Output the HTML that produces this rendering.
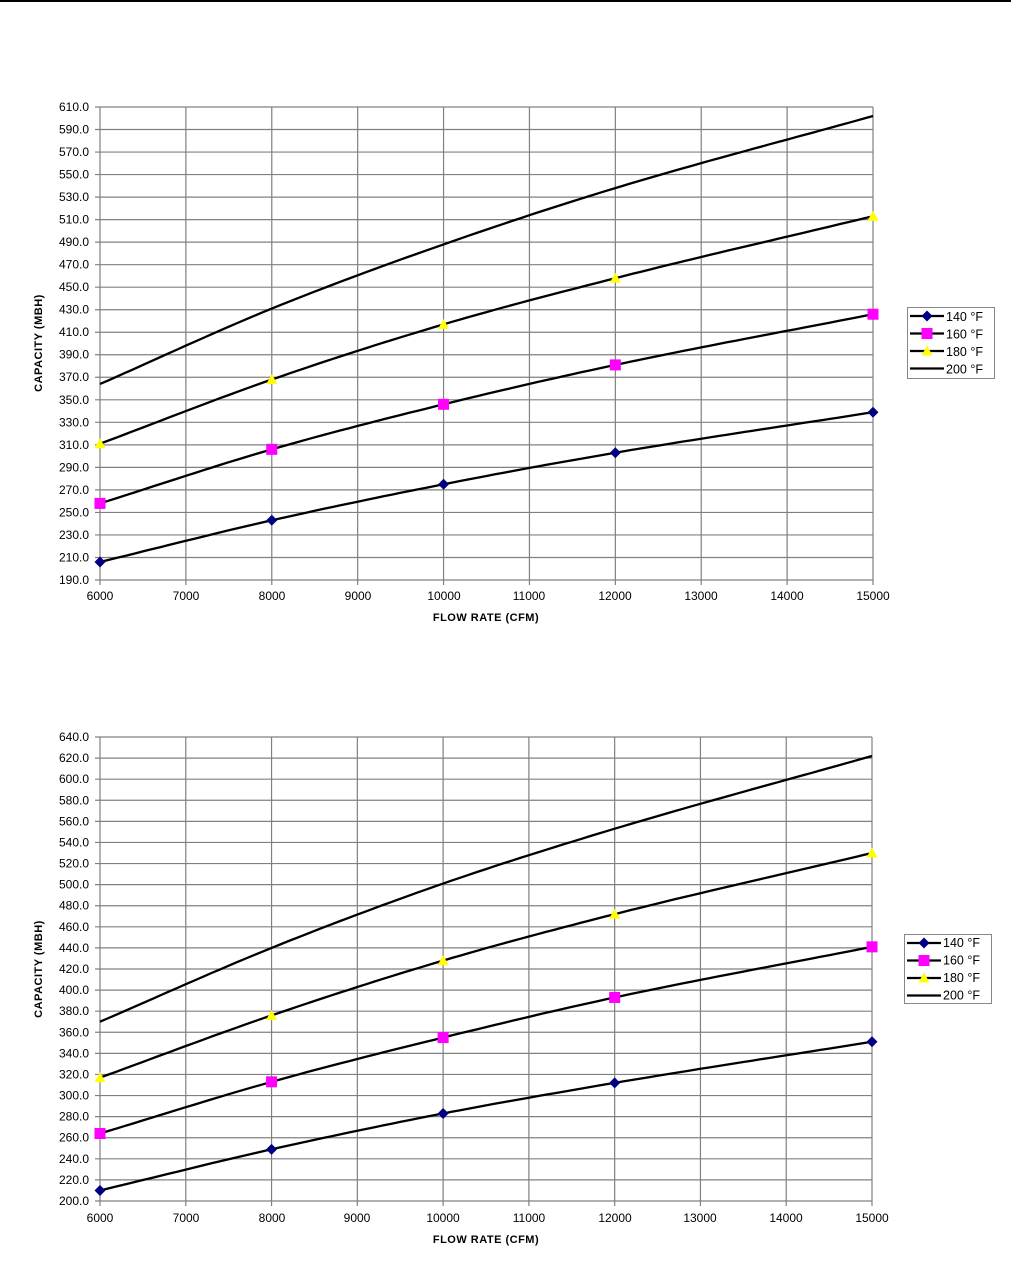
<!DOCTYPE html>
<html><head><meta charset="utf-8"><style>
body{margin:0;background:#fff;}
svg text{font-family:"Liberation Sans",Arial,sans-serif;fill:#000;}
.yl{font-size:12px;text-anchor:end;}
.xl{font-size:12px;text-anchor:middle;}
.t{font-size:11px;font-weight:bold;letter-spacing:0.5px;}
.lg{font-size:12.5px;}
</style></head><body>
<svg id="s" width="1011" height="1262" xmlns="http://www.w3.org/2000/svg">
<line x1="0" y1="1" x2="1011" y2="1" stroke="#000" stroke-width="2"/>
<rect x="907.5" y="307.5" width="87" height="71" fill="#fff" stroke="#888"/>
<rect x="904.5" y="934.5" width="87" height="69" fill="#fff" stroke="#888"/>
<g id="g"></g>
<g class="yl">
<text x="89" y="111">610.0</text><text x="89" y="133.5">590.0</text><text x="89" y="156">570.0</text><text x="89" y="178.5">550.0</text><text x="89" y="201">530.0</text><text x="89" y="223.6">510.0</text><text x="89" y="246.1">490.0</text><text x="89" y="268.6">470.0</text><text x="89" y="291.2">450.0</text><text x="89" y="313.7">430.0</text><text x="89" y="336.2">410.0</text><text x="89" y="358.7">390.0</text><text x="89" y="381.2">370.0</text><text x="89" y="403.8">350.0</text><text x="89" y="426.3">330.0</text><text x="89" y="448.8">310.0</text><text x="89" y="471.3">290.0</text><text x="89" y="493.8">270.0</text><text x="89" y="516.4">250.0</text><text x="89" y="538.9">230.0</text><text x="89" y="561.4">210.0</text><text x="89" y="584">190.0</text>
</g>
<g class="xl">
<text x="100" y="600">6000</text><text x="186" y="600">7000</text><text x="272" y="600">8000</text><text x="358" y="600">9000</text><text x="444" y="600">10000</text><text x="529" y="600">11000</text><text x="615" y="600">12000</text><text x="701" y="600">13000</text><text x="787" y="600">14000</text><text x="873" y="600">15000</text>
</g>
<text class="t" x="486" y="621" text-anchor="middle">FLOW RATE (CFM)</text>
<text class="t" x="42" y="343" text-anchor="middle" transform="rotate(-90 42 343)">CAPACITY (MBH)</text>
<g class="yl">
<text x="89" y="741">640.0</text><text x="89" y="762.1">620.0</text><text x="89" y="783.2">600.0</text><text x="89" y="804.3">580.0</text><text x="89" y="825.4">560.0</text><text x="89" y="846.5">540.0</text><text x="89" y="867.5">520.0</text><text x="89" y="888.6">500.0</text><text x="89" y="909.7">480.0</text><text x="89" y="930.8">460.0</text><text x="89" y="951.9">440.0</text><text x="89" y="973">420.0</text><text x="89" y="994.1">400.0</text><text x="89" y="1015.2">380.0</text><text x="89" y="1036.3">360.0</text><text x="89" y="1057.4">340.0</text><text x="89" y="1078.5">320.0</text><text x="89" y="1099.5">300.0</text><text x="89" y="1120.6">280.0</text><text x="89" y="1141.7">260.0</text><text x="89" y="1162.8">240.0</text><text x="89" y="1183.9">220.0</text><text x="89" y="1205">200.0</text>
</g>
<g class="xl">
<text x="100" y="1222">6000</text><text x="186" y="1222">7000</text><text x="272" y="1222">8000</text><text x="357" y="1222">9000</text><text x="443" y="1222">10000</text><text x="529" y="1222">11000</text><text x="615" y="1222">12000</text><text x="700" y="1222">13000</text><text x="786" y="1222">14000</text><text x="872" y="1222">15000</text>
</g>
<text class="t" x="486" y="1243" text-anchor="middle">FLOW RATE (CFM)</text>
<text class="t" x="42" y="969" text-anchor="middle" transform="rotate(-90 42 969)">CAPACITY (MBH)</text>
<g class="lg"><text x="946" y="321">140 °F</text><text x="946" y="338.5">160 °F</text><text x="946" y="356">180 °F</text><text x="946" y="373.5">200 °F</text></g>
<g class="lg"><text x="943" y="947">140 °F</text><text x="943" y="964.5">160 °F</text><text x="943" y="982">180 °F</text><text x="943" y="999.5">200 °F</text></g>
</svg>
<script>
var g=document.getElementById('g'),NS='http://www.w3.org/2000/svg';
function el(t,a){var e=document.createElementNS(NS,t);for(var k in a)e.setAttribute(k,a[k]);g.appendChild(e);return e;}
function marker(type,x,y){
 if(type==0)el('polygon',{points:(x)+','+(y-5.5)+' '+(x+5.5)+','+y+' '+x+','+(y+5.5)+' '+(x-5.5)+','+y,fill:'#000080'});
 else if(type==1)el('rect',{x:x-5.5,y:y-5.5,width:11,height:11,fill:'#ff00ff'});
 else if(type==2)el('polygon',{points:x+','+(y-5.5)+' '+(x+5.5)+','+(y+4.5)+' '+(x-5.5)+','+(y+4.5),fill:'#ffff00'});
}
function chart(x0,x1,yt,yb,vmax,vmin,data,lx,ly){
 var n=(vmax-vmin)/20;
 for(var i=0;i<=n;i++){var y=yt+(yb-yt)*i/n;el('line',{x1:x0-5,y1:y,x2:x1,y2:y,stroke:'#808080','stroke-width':1.2});}
 for(var j=0;j<=9;j++){var x=x0+(x1-x0)*j/9;el('line',{x1:x,y1:yt,x2:x,y2:yb+5,stroke:'#808080','stroke-width':1.2});}
 var xs=[6000,8000,10000,12000,15000];
 function X(v){return x0+(x1-x0)*(v-6000)/9000;}
 function Y(v){return yb-(yb-yt)*(v-vmin)/(vmax-vmin);}
 data.forEach(function(d,k){
  // slopes for Hermite
  var m=[];for(var i=0;i<5;i++){
   if(i==0)m.push((d[1]-d[0])/(xs[1]-xs[0]));else if(i==4)m.push((d[4]-d[3])/(xs[4]-xs[3]));
   else m.push(((d[i+1]-d[i])/(xs[i+1]-xs[i])+(d[i]-d[i-1])/(xs[i]-xs[i-1]))/2);}
  var pts=[];for(var v=6000;v<=15000;v+=100){
   var i=0;while(i<3&&v>xs[i+1])i++;var h=xs[i+1]-xs[i],t=(v-xs[i])/h;
   var val=(2*t*t*t-3*t*t+1)*d[i]+(t*t*t-2*t*t+t)*h*m[i]+(-2*t*t*t+3*t*t)*d[i+1]+(t*t*t-t*t)*h*m[i+1];
   pts.push(X(v).toFixed(1)+','+Y(val).toFixed(1));}
  el('polyline',{points:pts.join(' '),fill:'none',stroke:'#000','stroke-width':2.3});
  if(k<3)xs.forEach(function(v,i){marker(k,X(v),Y(d[i]));});
 });
 for(var k=0;k<4;k++){var yy=ly+k*17.5;el('line',{x1:lx,y1:yy,x2:lx+34,y2:yy,stroke:'#000','stroke-width':2.2});marker(k,lx+17,yy);}
}
chart(100,873,107,580,610,190,[[206,243,275,303,339],[258,306,346,381,426],[311,368,417,458,513],[364,431,488,538,602]],910,316);
chart(100,872,737,1201,640,200,[[210,249,283,312,351],[264,313,355,393,441],[317,376,428,472,530],[370,440,501,553,622]],907,943);
</script>
</body></html>
